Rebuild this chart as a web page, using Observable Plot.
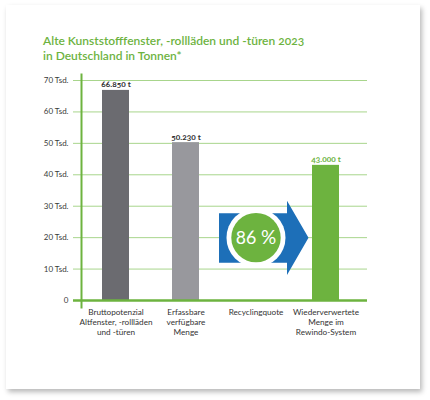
<!DOCTYPE html>
<html><head><meta charset="utf-8">
<script src="https://cdn.jsdelivr.net/npm/d3@7"></script>
<script src="https://cdn.jsdelivr.net/npm/@observablehq/plot@0.6"></script>
<style>
  html, body { margin: 0; padding: 0; background: #ffffff; }
  body { width: 430px; height: 400px; position: relative; overflow: hidden; font-family: Lato, sans-serif; font-variant-numeric: oldstyle-nums; }
  #card { position: absolute; left: 6px; top: 5px; width: 414px; height: 384px; background: #fff;
          box-shadow: 2px 3px 5px rgba(0,0,0,0.28); }
  #title { position: absolute; left: 43px; top: 33px; margin: 0; font-size: 12px; line-height: 15px;
           font-weight: 600; color: #6db33f; white-space: nowrap; }
  #chart { position: absolute; left: 0; top: 65px; }
  #chart svg { overflow: visible; }
</style></head>
<body>
<div id="card"></div>
<h1 id="title">Alte Kunststofffenster, -rollläden und -türen 2023<br>in Deutschland in Tonnen*</h1>
<div id="chart"></div>
<script>
// ---- data ----
const categories = ["Bruttopotenzial", "Erfassbare", "Recyclingquote", "Wiederverwertete"];
const categoryLabels = [
  "Bruttopotenzial\nAltfenster, -rollläden\nund -türen",
  "Erfassbare\nverfügbare\nMenge",
  "Recyclingquote",
  "Wiederverwertete\nMenge im\nRewindo-System"
];
const values = [66.85, 50.23, null, 43.0];          // Tsd. Tonnen
const valueLabels = ["66.850 t", "50.230 t", "", "43.000 t"];
const recyclingQuote = 20;                          // vertical position (Tsd.) of the quota badge
const recyclingLabel = "86 %";
const yTicks = [0, 10, 20, 30, 40, 50, 60, 70];
const yTickLabels = ["0", "10 Tsd.", "20 Tsd.", "30 Tsd.", "40 Tsd.", "50 Tsd.", "60 Tsd.", "70 Tsd."];
const barColors = ["#6b6b70", "#98989d", "#ffffff", "#6db33f"];
const labelColors = ["#333333", "#333333", "#333333", "#6db33f"];

// ---- table ----
const data = categories.map((c, i) => ({
  cat: c, label: categoryLabels[i], value: values[i], vlabel: valueLabels[i], lcolor: labelColors[i]
}));
const bars = data.filter(d => d.value != null);
const badge = [{cat: categories[2], y: recyclingQuote, text: recyclingLabel}];

const green = "#6db33f";
const arrowSymbol = {
  draw(ctx) {
    ctx.moveTo(-37, -24.5);
    ctx.lineTo(31, -24.5);
    ctx.lineTo(31, -37);
    ctx.lineTo(52.5, 0);
    ctx.lineTo(31, 37.3);
    ctx.lineTo(31, 25);
    ctx.lineTo(-37, 25);
    ctx.closePath();
  }
};

const chart = Plot.plot({
  width: 430,
  height: 285,
  marginLeft: 73,
  marginRight: 63,
  marginTop: 15,
  marginBottom: 50,
  style: { fontFamily: "Lato, sans-serif", background: "transparent", fontVariantNumeric: "oldstyle-nums" },
  x: { domain: categories, paddingInner: 0.62, paddingOuter: 0.4, axis: null },
  y: { domain: [0, 70], axis: null },
  color: { domain: categories, range: barColors },
  marks: [
    Plot.ruleY(yTicks.filter(d => d > 0), { stroke: "#a8d58c", strokeWidth: 1 }),
    Plot.axisY({
      ticks: yTicks, tickSize: 0, tickPadding: 5,
      tickFormat: d => yTickLabels[yTicks.indexOf(d)],
      fontSize: 8, fill: "#3a3a3a"
    }),
    Plot.barY(bars, { x: "cat", y: "value", fill: "cat" }),
    Plot.text(bars, {
      x: "cat", y: "value", text: "vlabel", fill: "lcolor",
      lineAnchor: "bottom", dy: -3, fontSize: 8.3, fontWeight: "bold"
    }),
    // Recycling quota badge
    Plot.dot(badge, { x: "cat", y: "y", symbol: arrowSymbol, r: 10, fill: "#1d6fb8", stroke: "none" }),
    Plot.dot(badge, { x: "cat", y: "y", r: 29.5, fill: "#ffffff", stroke: "none" }),
    Plot.dot(badge, { x: "cat", y: "y", r: 24.7, fill: green, stroke: "none" }),
    Plot.text(badge, { x: "cat", y: "y", text: "text", fill: "#ffffff", fontSize: 19, fontWeight: "normal" }),
    // axes lines
    Plot.ruleY([0], { stroke: green, strokeWidth: 2.5 }),
    Plot.frame({ anchor: "left", dx: 8, insetTop: -6, insetBottom: -7, stroke: green, strokeWidth: 2 }),
    // category labels
    Plot.text(data, {
      x: "cat", frameAnchor: "bottom", text: "label", lineAnchor: "top", dy: 8,
      fontSize: 8.2, lineHeight: 1.18, fill: "#333333"
    })
  ]
});
document.getElementById("chart").append(chart);
</script>
</body></html>
